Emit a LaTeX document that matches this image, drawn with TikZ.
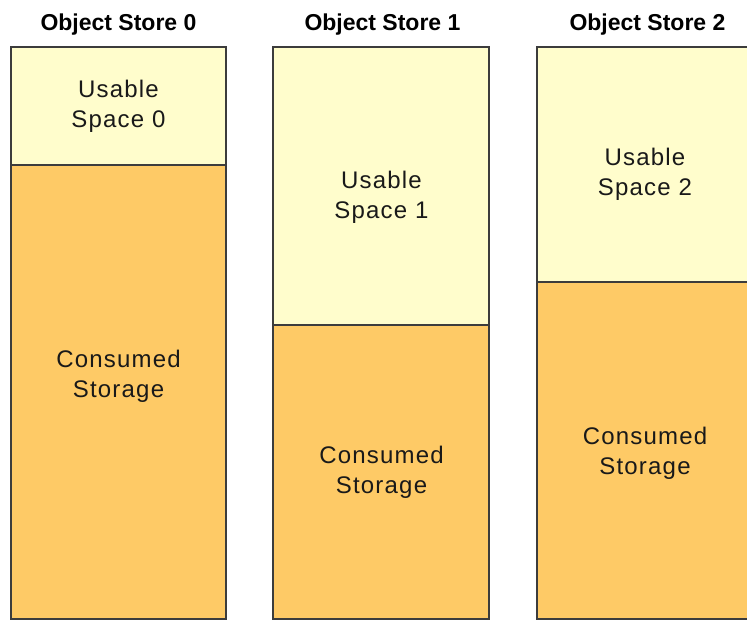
\documentclass[tikz,border=0pt]{standalone}
\usepackage{fontspec}
\setmainfont{Liberation Sans}
\newfontfamily\lblfamily[LetterSpace=5]{Liberation Sans}
\newfontfamily\titlefamily{Liberation Sans}
\definecolor{usablefill}{RGB}{255,253,204}
\definecolor{consfill}{RGB}{254,202,102}
\definecolor{edgecol}{RGB}{60,60,60}
\definecolor{textcol}{RGB}{25,25,25}
\tikzset{
  usable/.style={fill=usablefill, draw=edgecol, line width=2pt},
  consumed/.style={fill=consfill, draw=edgecol, line width=2pt},
  lbl/.style={font=\lblfamily\fontsize{24}{30}\selectfont, align=center, text=textcol, inner sep=0pt},
  storetitle/.style={font=\titlefamily\bfseries\fontsize{23}{28}\selectfont, text=black, inner sep=0pt, anchor=base}
}
\begin{document}
\begin{tikzpicture}[x=1pt,y=-1pt]
\useasboundingbox (0,0) rectangle (747,620);
\clip (0,0) rectangle (747,620);
% column 0
\draw[consumed] (11,165) rectangle (225.5,618.5);
\draw[usable] (11,47) rectangle (225.5,165);
% column 1
\draw[consumed] (273,325) rectangle (489,618.5);
\draw[usable] (273,47) rectangle (489,325);
% column 2
\draw[consumed] (537,282.3) rectangle (753,618.5);
\draw[usable] (537,47) rectangle (753,282.3);
% titles
\node[storetitle] (t0) at (118.5,31) {Object Store 0};
\node[storetitle] (t1) at (382.5,31) {Object Store 1};
\node[storetitle] (t2) at (647.5,31) {Object Store 2};
% labels
\node[lbl] (u0) at (118.5,106.5) {Usable\\Space 0};
\node[lbl] (c0) at (118.5,376) {Consumed\\Storage};
\node[lbl] (u1) at (381.5,197.5) {Usable\\Space 1};
\node[lbl] (c1) at (381.5,472) {Consumed\\Storage};
\node[lbl] (u2) at (645,174.5) {Usable\\Space 2};
\node[lbl] (c2) at (645,453.5) {Consumed\\Storage};
\end{tikzpicture}
\end{document}
